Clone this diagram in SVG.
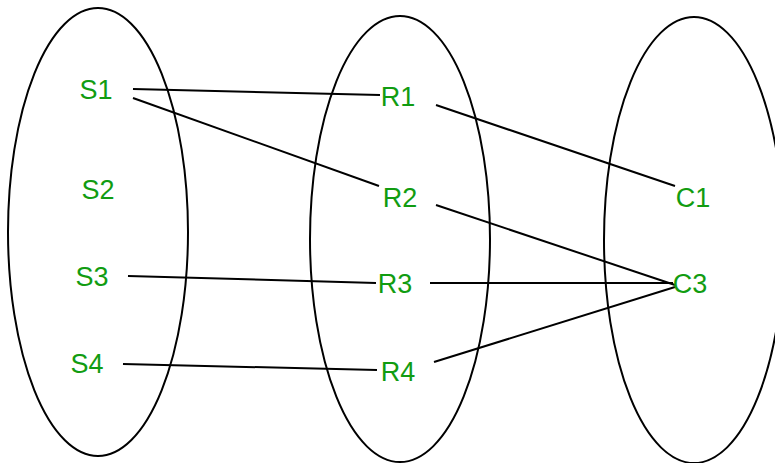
<svg xmlns="http://www.w3.org/2000/svg" width="775" height="463" viewBox="0 0 775 463">
<style>
.set{fill:none;stroke:#000;stroke-width:2}
.lbl{font-family:"Liberation Sans",Arial,sans-serif;font-size:27px;fill:#119c11;text-anchor:middle}
.edge{stroke:#000;stroke-width:2;fill:none}
</style>
<rect width="775" height="463" fill="#fff"/>
<g id="setS"><ellipse class="set" cx="98" cy="232" rx="90" ry="224"/></g>
<g id="setR"><ellipse class="set" cx="400" cy="239" rx="90" ry="223"/></g>
<g id="setC"><ellipse class="set" cx="694" cy="240" rx="90" ry="223"/></g>
<g id="connectors">
<line class="edge" x1="133" y1="89" x2="380" y2="95"/>
<line class="edge" x1="133" y1="98" x2="379" y2="186"/>
<line class="edge" x1="128" y1="276" x2="376" y2="283"/>
<line class="edge" x1="123" y1="364" x2="377" y2="370"/>
<line class="edge" x1="436" y1="105" x2="675" y2="186"/>
<line class="edge" x1="436" y1="205" x2="675" y2="285"/>
<line class="edge" x1="430" y1="283" x2="673" y2="283"/>
<line class="edge" x1="434" y1="362" x2="675" y2="287"/>
</g>
<g id="S1"><text class="lbl" x="96" y="99">S1</text></g>
<g id="S2"><text class="lbl" x="98" y="199">S2</text></g>
<g id="S3"><text class="lbl" x="92" y="286">S3</text></g>
<g id="S4"><text class="lbl" x="87" y="373">S4</text></g>
<g id="R1"><text class="lbl" x="398" y="106">R1</text></g>
<g id="R2"><text class="lbl" x="400" y="207">R2</text></g>
<g id="R3"><text class="lbl" x="395" y="293">R3</text></g>
<g id="R4"><text class="lbl" x="398" y="381">R4</text></g>
<g id="C1"><text class="lbl" x="693" y="207">C1</text></g>
<g id="C3"><text class="lbl" x="690" y="293">C3</text></g>
</svg>
